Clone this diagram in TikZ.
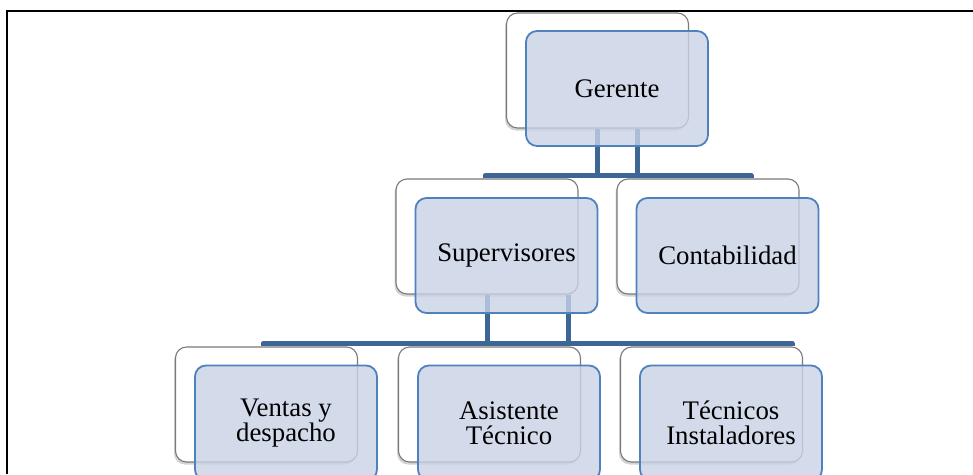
\documentclass[tikz,border=0pt]{standalone}
\usepackage{fontspec}
\setmainfont{Liberation Serif}
\usetikzlibrary{shadows,calc}
\definecolor{boxline}{HTML}{4F81BD}
\definecolor{boxfill}{HTML}{C9D3E6}
\definecolor{busline}{HTML}{3D6596}
\definecolor{backline}{HTML}{7A7A7A}
\begin{document}
\begin{tikzpicture}[x=1pt,y=-1pt,
  backbox/.style={draw=backline, line width=1.1pt, fill=white,
    rounded corners=11pt, minimum width=182pt, minimum height=115pt,
    inner sep=0pt,
    drop shadow={shadow xshift=-1.5pt, shadow yshift=-2.5pt, opacity=0.35}},
  frontbox/.style={draw=boxline, line width=1.8pt, fill=boxfill,
    fill opacity=0.8, text opacity=1, rounded corners=11pt,
    minimum width=182pt, minimum height=115pt, inner sep=0pt,
    align=center, font=\fontsize{26.8}{25.5}\selectfont},
  bus/.style={draw=busline, line width=5pt, line join=round}]
\useasboundingbox (0,0) rectangle (973,474);

% page frame
\draw[line width=1.3pt] (7,474) -- (7,11) -- (973,11);

% back (white) cards
\node[backbox] (gerW) at (597.5,70.5) {};
\node[backbox] (supW) at (487,236.5) {};
\node[backbox] (conW) at (708,236.5) {};
\node[backbox] (venW) at (266.5,404.5) {};
\node[backbox] (asiW) at (489.5,404.5) {};
\node[backbox] (tecW) at (711.5,404.5) {};

% first level connectors
\coordinate (busTopL) at (485,175.5);
\coordinate (busTopR) at (751,175.5);
\coordinate (gerTap) at ($(gerW.south)+(40,0)$);
\draw[bus] (gerW.south) -- (gerW.south |- busTopL);
\draw[bus] (gerTap) -- (gerTap |- busTopL);
\draw[bus] (busTopL |- supW.north) -- (busTopL) -- (busTopR) -- (busTopR |- conW.north);

% second level connectors
\coordinate (busLowL) at (263,343.5);
\coordinate (busLowR) at (792,343.5);
\coordinate (supTap) at ($(supW.south)+(81,0)$);
\draw[bus] (supW.south) -- (supW.south |- busLowL);
\draw[bus] (supTap) -- (supTap |- busLowL);
\draw[bus] (busLowL |- venW.north) -- (busLowL) -- (busLowR) -- (busLowR |- tecW.north);

% front (blue) cards
\node[frontbox] (gerB) at ($(gerW)+(19.5,18)$) {Gerente};
\node[frontbox] (supB) at ($(supW)+(19.5,19)$) {Supervisores};
\node[frontbox] (conB) at ($(conW)+(19.5,19)$) {Contabilidad};
\node[frontbox] (venB) at ($(venW)+(19.5,18.5)$) {Ventas y\\despacho};
\node[frontbox] (asiB) at ($(asiW)+(19.5,18.5)$) {Asistente\\Técnico};
\node[frontbox] (tecB) at ($(tecW)+(19.5,18.5)$) {Técnicos\\Instaladores};
\end{tikzpicture}
\end{document}
